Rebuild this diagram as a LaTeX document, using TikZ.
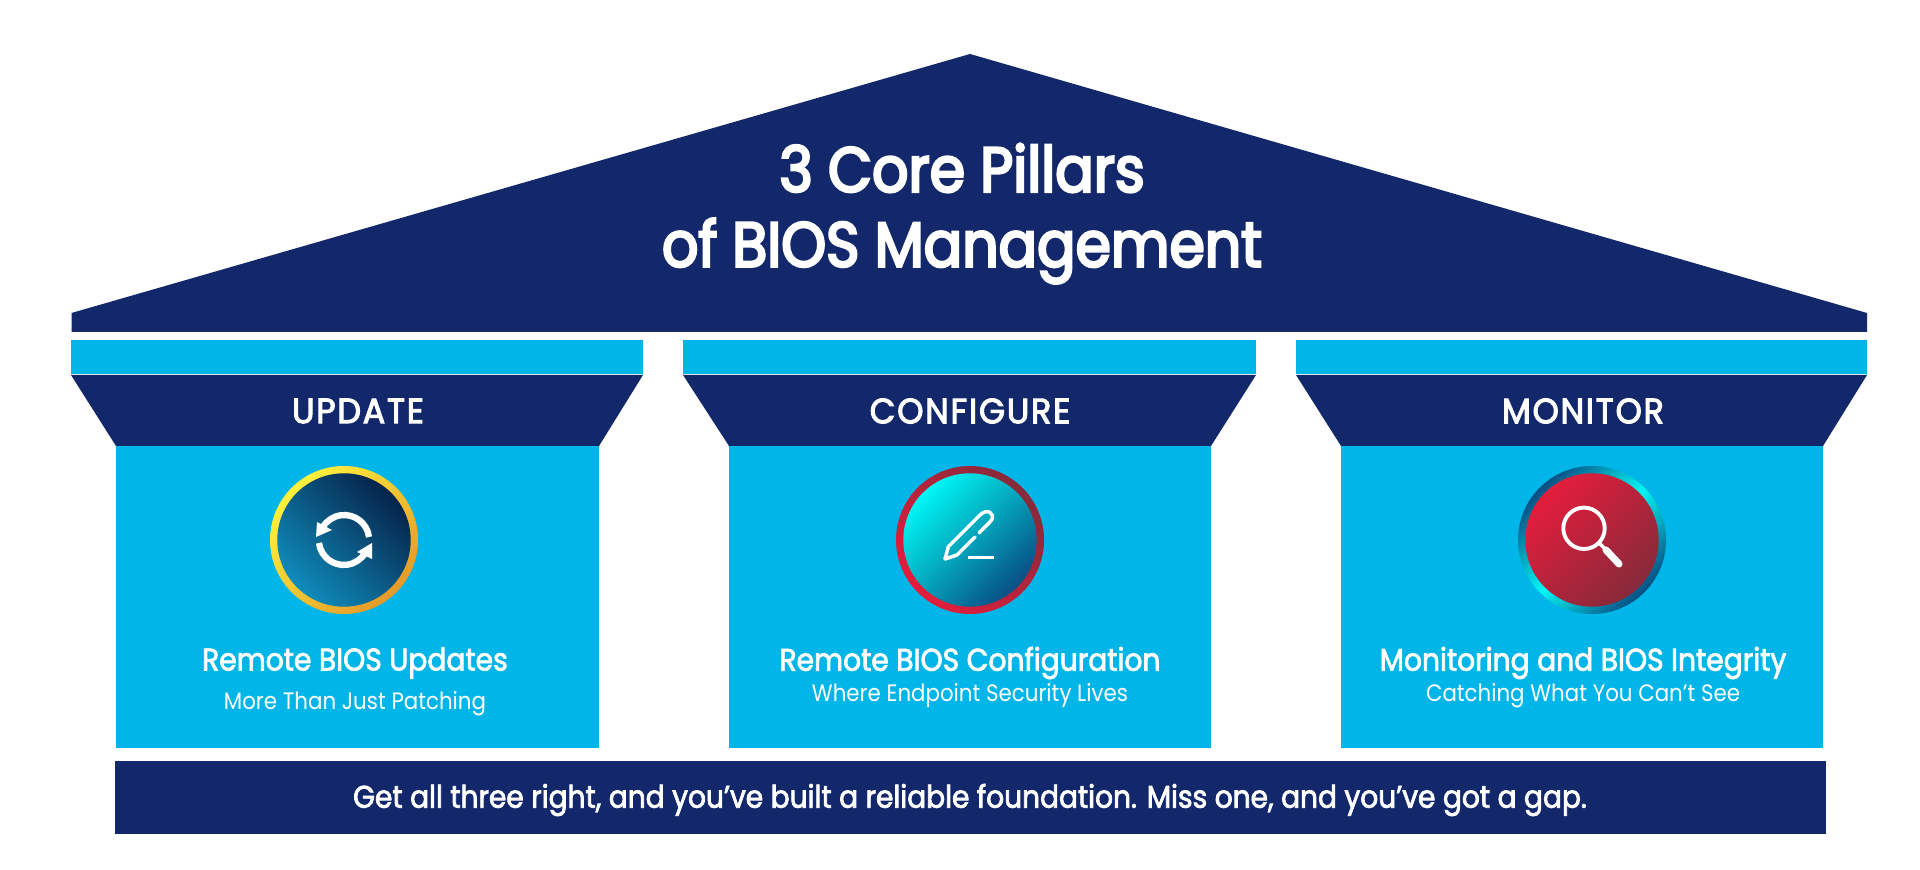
\documentclass[tikz,border=0pt]{standalone}
\usepackage{fontspec}
\setmainfont{Poppins}[FakeStretch=0.9]
\newfontfamily\midfont{Poppins}[FakeStretch=0.9, FakeBold=2.4]
\newfontfamily\bigfont{Poppins}[FakeStretch=0.9, FakeBold=4]
\newfontfamily\headfont{Poppins}[FakeStretch=0.95, FakeBold=3, LetterSpace=5]
\usepackage{tikz}

\definecolor{navy}{HTML}{12286B}
\definecolor{skyblue}{HTML}{00B5E8}
\definecolor{ringyellow}{HTML}{FFF23C}
\definecolor{ringorange}{HTML}{E59A2A}
\definecolor{deepblue}{HTML}{06234A}
\definecolor{midblue}{HTML}{0E8CBB}
\definecolor{brightcyan}{HTML}{00F8F4}
\definecolor{tealblue}{HTML}{084F84}
\definecolor{brightred}{HTML}{E41D3C}
\definecolor{darkred}{HTML}{862A3A}

\tikzset{
    titletext/.style={text=white, font=\fontsize{18}{20}\bigfont},
    headtext/.style={text=white, font=\fontsize{10}{10}\headfont},
    subtext/.style={text=white, font=\fontsize{8.9}{10}\midfont},
    smalltext/.style={text=white, font=\fontsize{6.75}{8}\selectfont},
    foottext/.style={text=white, font=\fontsize{8.87}{10}\midfont},
    iconline/.style={draw=white, line width=1pt, line cap=round, line join=round}
}

\begin{document}
\begin{tikzpicture}
    \useasboundingbox (0, 0) rectangle (19.2, 8.69);
    \fill[white] (0, 0) rectangle (19.2, 8.69);

    % roof
    \fill[navy] (0.715, 5.37) -- (0.715, 5.56) -- (9.70, 8.15) -- (18.67, 5.56) -- (18.67, 5.37) -- cycle;
    \node[titletext] (title) at (9.62, 7.01) {3 Core Pillars};
    \node[titletext] (titlesecond) at (9.62, 6.18) {of BIOS Management};

    % first pillar
    \fill[skyblue] (0.71, 4.95) rectangle (6.43, 5.29);
    \fill[navy] (0.71, 4.94) -- (6.43, 4.94) -- (5.99, 4.23) -- (1.16, 4.23) -- cycle;
    \fill[skyblue] (1.16, 1.21) rectangle (5.99, 4.23);
    \node[headtext] (update) at (3.58, 4.58) {UPDATE};
    \node[subtext] (updatehead) at (3.55, 2.06) {Remote BIOS Updates};
    \node[smalltext] (updatesub) at (3.55, 1.65) {More Than Just Patching};

    % second pillar
    \fill[skyblue] (6.83, 4.95) rectangle (12.56, 5.29);
    \fill[navy] (6.83, 4.94) -- (12.56, 4.94) -- (12.11, 4.23) -- (7.29, 4.23) -- cycle;
    \fill[skyblue] (7.29, 1.21) rectangle (12.11, 4.23);
    \node[headtext] (configure) at (9.70, 4.58) {CONFIGURE};
    \node[subtext] (configurehead) at (9.70, 2.06) {Remote BIOS Configuration};
    \node[smalltext] (configuresub) at (9.70, 1.73) {Where Endpoint Security Lives};

    % third pillar
    \fill[skyblue] (12.96, 4.95) rectangle (18.67, 5.29);
    \fill[navy] (12.96, 4.94) -- (18.67, 4.94) -- (18.23, 4.23) -- (13.41, 4.23) -- cycle;
    \fill[skyblue] (13.41, 1.21) rectangle (18.23, 4.23);
    \node[headtext] (monitor) at (15.83, 4.58) {MONITOR};
    \node[subtext] (monitorhead) at (15.83, 2.06) {Monitoring and BIOS Integrity};
    \node[smalltext] (monitorsub) at (15.83, 1.73) {Catching What You Can’t See};

    % foot
    \fill[navy] (1.15, 0.35) rectangle (18.26, 1.08);
    \node[foottext] (foot) at (9.70, 0.69) {Get all three right, and you’ve built a reliable foundation. Miss one, and you’ve got a gap.};

    % update badge
    \begin{scope}[shift={(3.44, 3.29)}]
        \shade[top color=ringyellow, bottom color=ringorange, shading angle=45] (0, 0) circle (0.74);
        \shade[top color=deepblue, bottom color=midblue, shading angle=-45] (0, 0) circle (0.667);
        \draw[iconline, line width=1.8pt, line cap=butt] (0.25, 0.03) arc (7:150:0.25);
        \draw[iconline, line width=1.8pt, line cap=butt] (-0.25, -0.03) arc (187:330:0.25);
        \fill[white] (-0.28, 0.03) -- (-0.27, 0.18) -- (-0.12, 0.10) -- cycle;
        \fill[white] (0.28, -0.03) -- (0.28, -0.19) -- (0.13, -0.12) -- cycle;
    \end{scope}

    % configure badge
    \begin{scope}[shift={(9.70, 3.29)}]
        \shade[top color=darkred, bottom color=brightred, shading angle=-45] (0, 0) circle (0.74);
        \shade[top color=brightcyan, bottom color=tealblue, shading angle=45] (0, 0) circle (0.667);
        \draw[iconline] (0.09, 0.07) -- (0.217, 0.20) .. controls (0.25, 0.27) and (0.17, 0.32) .. (0.10, 0.25) -- (-0.217, -0.067) -- (-0.25, -0.19) -- (-0.13, -0.15) -- (0.05, 0.03);
        \draw[iconline, line cap=butt] (-0.02, -0.177) -- (0.24, -0.177);
    \end{scope}

    % monitor badge
    \begin{scope}[shift={(15.92, 3.29)}]
        \shade[top color=tealblue, bottom color=tealblue, middle color=brightcyan, shading angle=45] (0, 0) circle (0.74);
        \shade[top color=brightred, bottom color=darkred, shading angle=45] (0, 0) circle (0.667);
        \draw[iconline, line width=1.1pt] (-0.08, 0.117) circle (0.207);
        \draw[iconline] (0.07, -0.03) -- (0.14, -0.10);
        \draw[iconline, line width=2pt] (0.14, -0.10) -- (0.27, -0.24);
    \end{scope}
\end{tikzpicture}
\end{document}
